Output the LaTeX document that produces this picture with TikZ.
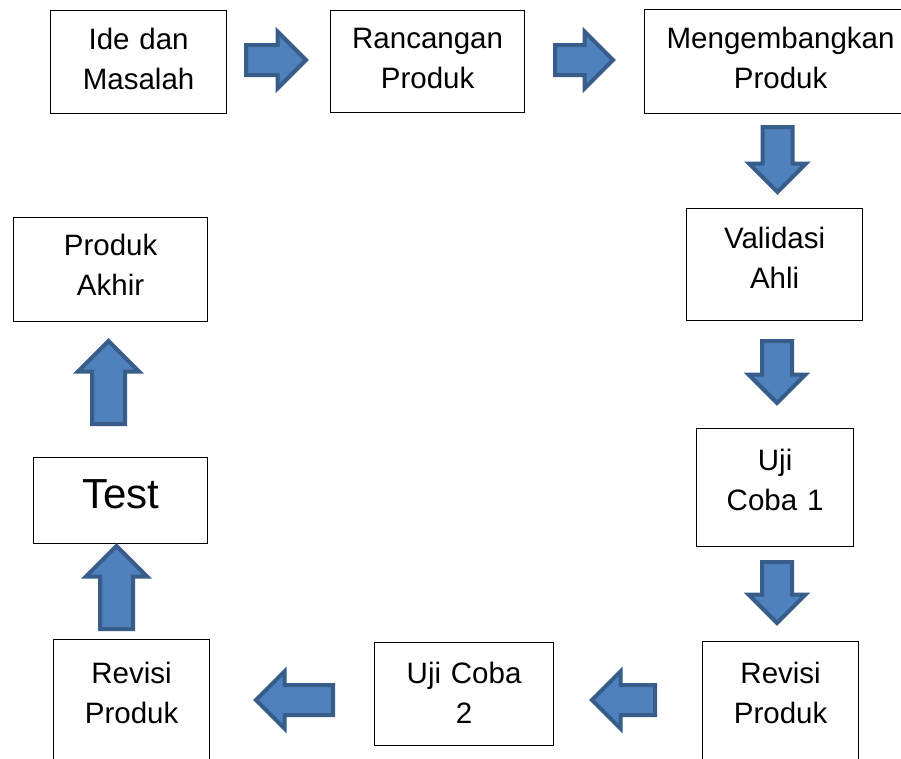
\documentclass[tikz,border=0pt]{standalone}
\usepackage{fontspec}
\setmainfont{Liberation Sans}
\usepackage{xcolor}
\usetikzlibrary{shapes.arrows}
\definecolor{isipanah}{HTML}{4F81BD}
\definecolor{garispanah}{HTML}{385D8A}

\begin{document}
\begin{tikzpicture}[x=1pt, y=-1pt,
    langkah/.style={draw, line width=1.2pt, align=center, inner sep=0pt, anchor=north west, font=\fontsize{29.5}{39.5}\selectfont},
    panah/.style={single arrow, draw=garispanah, fill=isipanah, line width=4pt, inner xsep=0pt, inner ysep=13pt, single arrow head extend=13.5pt, anchor=tail}]
    \path[use as bounding box, fill=white] (0,0) rectangle (901,758);

    \node[langkah, text width=176pt, text height=39pt, text depth=64pt] (ide) at (50,10) {Ide dan\\Masalah};
    \node[langkah, text width=194pt, text height=38pt, text depth=64pt] (rancangan) at (330,10) {Rancangan\\Produk};
    \node[langkah, text width=272pt, text height=39pt, text depth=65pt] (kembang) at (644,9) {Mengembangkan\\Produk};
    \node[langkah, text width=176pt, text height=40pt, text depth=72pt] (validasi) at (686,208) {Validasi\\Ahli};
    \node[langkah, text width=157pt, text height=42pt, text depth=76pt] (uji1) at (696,428) {Uji\\Coba 1};
    \node[langkah, text width=156pt, text height=42pt, text depth=120pt] (revisi1) at (702,641) {Revisi\\Produk};
    \node[langkah, text width=179pt, text height=41pt, text depth=62pt] (uji2) at (374,642) {Uji Coba\\2};
    \node[langkah, text width=156pt, text height=44pt, text depth=120pt] (revisi2) at (53,639) {Revisi\\Produk};
    \node[langkah, text width=174pt, text height=51pt, text depth=35pt, font=\fontsize{42}{50}\selectfont] (tes) at (33,457) {Test};
    \node[langkah, text width=194pt, text height=38pt, text depth=66pt] (akhir) at (13,217) {Produk\\Akhir};

    \node[panah, minimum height=60pt] (p1) at (244,60) {};
    \node[panah, minimum height=58pt] (p2) at (553,60) {};
    \node[panah, rotate=-90, minimum height=65pt] (p3) at (777.5,125) {};
    \node[panah, rotate=-90, minimum height=62pt] (p4) at (777,339) {};
    \node[panah, rotate=-90, minimum height=61pt] (p5) at (777,560) {};
    \node[panah, rotate=180, minimum height=63pt] (p6) at (657,700) {};
    \node[panah, rotate=180, minimum height=77pt] (p7) at (335,700) {};
    \node[panah, rotate=90, inner ysep=14.5pt, single arrow head extend=14pt, minimum height=83pt] (p8) at (116.5,631) {};
    \node[panah, rotate=90, inner ysep=14.5pt, single arrow head extend=14pt, minimum height=83pt] (p9) at (108.5,426) {};
\end{tikzpicture}
\end{document}
